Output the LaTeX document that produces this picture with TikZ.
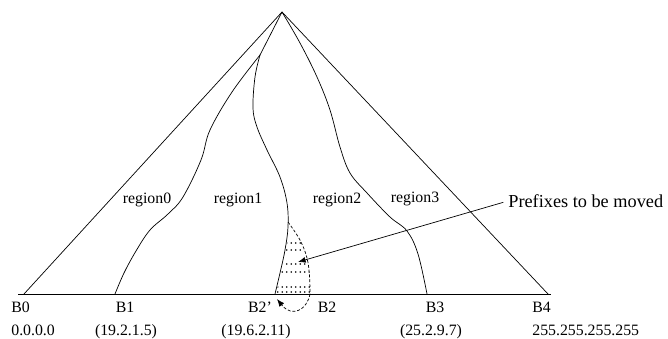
\documentclass[tikz,border=0pt]{standalone}
\usepackage{fontspec}
\setmainfont{Liberation Serif}
\usetikzlibrary{arrows.meta}

\begin{document}
\begin{tikzpicture}[x=0.03cm,y=-0.03cm,>={Latex[length=6.5pt,width=5pt]},
    line width=0.6pt,
    lbl/.style={font=\fontsize{13.5}{16}\selectfont,inner sep=0pt,anchor=base},
    bdash/.style={dash pattern=on 2.5pt off 1.6pt}]
    \useasboundingbox (0,0) rectangle (668,339);

    % triangle and base
    \coordinate (top) at (282,12);
    \coordinate (lc) at (24,294);
    \coordinate (rc) at (548,294);
    \coordinate (bl) at (18,294);
    \coordinate (br) at (551,294);
    \draw (lc) -- (top) -- (rc);
    \draw (bl) -- (br);

    % region boundaries
    \coordinate (split) at (260,55);
    \draw (top) -- (split);
    \draw plot[smooth,tension=0.6] coordinates {(260,55) (232,92) (210,130) (201,160) (183,197)
      (168,214) (150,230) (136,251) (124,273) (115,294)};
    \draw plot[smooth,tension=0.6] coordinates {(260,55) (255,77) (253,108) (257,127) (267,150)
      (280,177) (287,203) (288,227) (285,250) (280,273) (275,294)};
    \draw plot[smooth,tension=0.6] coordinates {(282,12) (300,43) (317,77) (330,110) (340,147)
      (350,173) (367,193) (390,217) (407,231) (418,254) (427,294)};

    % prefixes to be moved
    \draw[bdash] plot[smooth,tension=0.6] coordinates {(288,222) (300,240) (307,258) (309.5,276) (310,294)};
    \begin{scope}
      \clip (287,215) -- (289,227) -- (286,250) -- (281,273) -- (276,294)
        -- (310,294) -- (310,276) -- (307,258) -- (300,240) -- (288,222) -- cycle;
      \foreach \r in {243,250,264,272,287,292}
        \foreach \c in {277,281.5,...,312}
          \fill (\c+0.8,\r) circle (0.75pt);
    \end{scope}
    \coordinate (b2) at (310,294);
    \coordinate (b2new) at (277,299);
    \draw[bdash,->] (b2) .. controls (307,310) and (292,318) .. (b2new);

    \node[font=\fontsize{15.6}{18}\selectfont,inner sep=0pt,anchor=base west] (pm) at (508,207) {Prefixes to be moved};
    \coordinate (tgt) at (298,262);
    \draw[->] ([xshift=-4pt,yshift=4pt]pm.base west) -- (tgt);

    % region labels
    \node[lbl] (r0) at (147,203) {region0};
    \node[lbl] (r1) at (238,203) {region1};
    \node[lbl] (r2) at (337,203) {region2};
    \node[lbl] (r3) at (415,202) {region3};

    % boundary labels
    \node[lbl,anchor=base west] (B0) at (11,312) {B0};
    \node[lbl,anchor=base west] (a0) at (11,335) {0.0.0.0};
    \node[lbl] (B1) at (125,312) {B1};
    \node[lbl] (a1) at (126,335) {(19.2.1.5)};
    \node[lbl] (B2p) at (260,312) {B2'};
    \node[lbl] (a2) at (256,335) {(19.6.2.11)};
    \node[lbl] (B2) at (327,312) {B2};
    \node[lbl] (B3) at (435,312) {B3};
    \node[lbl] (a3) at (431,335) {(25.2.9.7)};
    \node[lbl,anchor=base west] (B4) at (532,312) {B4};
    \node[lbl,anchor=base west] (a4) at (532,335) {255.255.255.255};
\end{tikzpicture}
\end{document}
